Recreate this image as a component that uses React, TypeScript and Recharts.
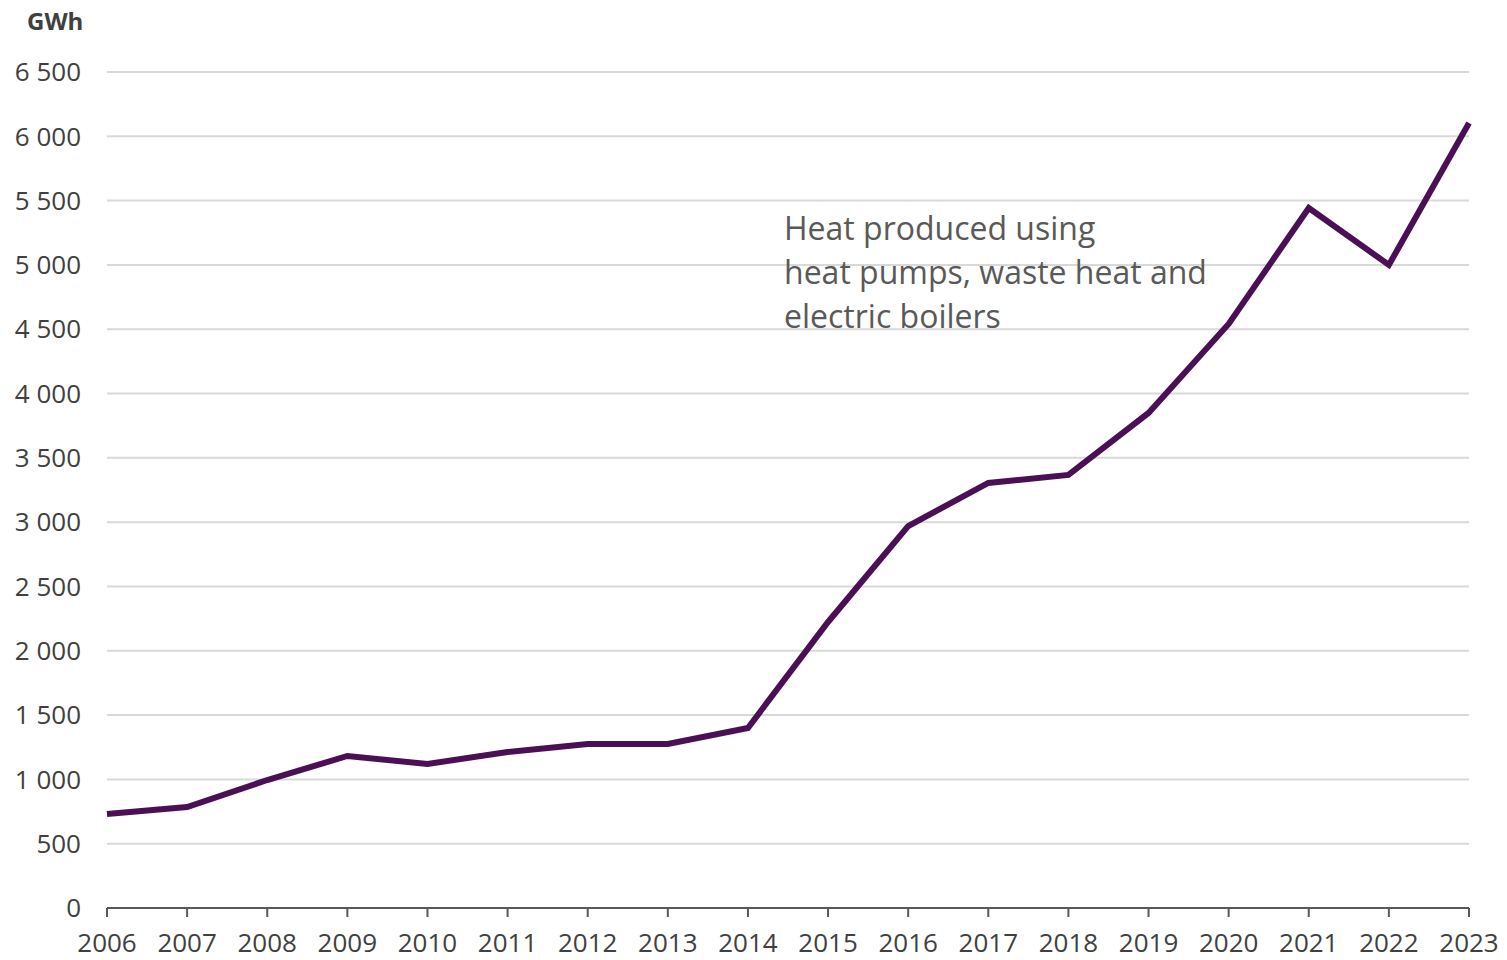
import { LineChart, Line, XAxis, YAxis, CartesianGrid } from 'recharts';

const YEARS = ['2006', '2007', '2008', '2009', '2010', '2011', '2012', '2013', '2014', '2015', '2016', '2017', '2018', '2019', '2020', '2021', '2022', '2023'];
const HEAT_GWH = [730, 785, 995, 1182, 1120, 1213, 1275, 1275, 1400, 2224, 2970, 3305, 3367, 3849, 4541, 5443, 5000, 6104];
const Y_TICKS = [0, 500, 1000, 1500, 2000, 2500, 3000, 3500, 4000, 4500, 5000, 5500, 6000, 6500];
const NOTE_LINES = ['Heat produced using', 'heat pumps, waste heat and', 'electric boilers'];

const data = YEARS.map((year, i) => ({ year, value: HEAT_GWH[i] }));

const FONT = '"Open Sans", sans-serif';
const fmt = (v: number) => v.toLocaleString('en-US').replace(/,/g, ' ');

export default function App() {
    return (
        <div style={{ position: 'absolute', left: 0, top: 0, width: 1507, height: 960, background: '#fff', fontFamily: FONT }}>
            <LineChart width={1507} height={960} data={data} margin={{ top: 72, right: 38, bottom: 0, left: 0 }}>
                <CartesianGrid vertical={false} stroke="#d9d9d9" strokeWidth={2} />
                <XAxis
                    dataKey="year"
                    height={52}
                    stroke="#595959"
                    strokeWidth={2}
                    tickSize={9}
                    tickMargin={17}
                    tick={{ fill: '#404040', fontSize: 26, fontFamily: FONT }}
                    interval={0}
                />
                <YAxis
                    width={107}
                    domain={[0, 6500]}
                    ticks={Y_TICKS}
                    axisLine={false}
                    tickLine={false}
                    tickSize={0}
                    tickMargin={26}
                    tickFormatter={fmt}
                    tick={{ fill: '#404040', fontSize: 26, fontFamily: FONT }}
                />
                <Line
                    type="linear"
                    dataKey="value"
                    stroke="#4b0f55"
                    strokeWidth={6}
                    dot={false}
                    isAnimationActive={false}
                />
            </LineChart>
            {/* unit label */}
            <div style={{ position: 'absolute', left: 27, top: 4, fontSize: 24, fontWeight: 700, color: '#404040' }}>GWh</div>
            {/* series annotation */}
            <div style={{ position: 'absolute', left: 784, top: 206, fontSize: 32, lineHeight: '44px', color: '#595959' }}>
                {NOTE_LINES.map(t => <div key={t}>{t}</div>)}
            </div>
        </div>
    );
}
